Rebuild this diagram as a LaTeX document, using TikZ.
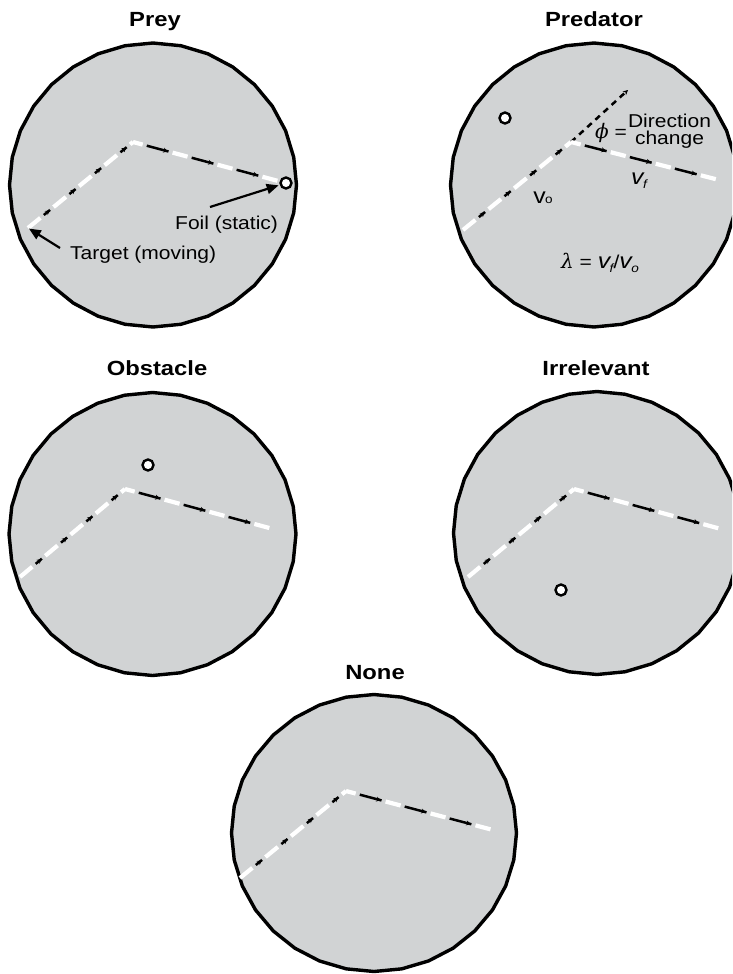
\documentclass[tikz,border=0pt]{standalone}
\usepackage{fontspec}
\setmainfont{Liberation Sans}
\newfontfamily\labelfont{Liberation Sans}[FakeStretch=1.13]
\newfontfamily\titlefont{Liberation Sans}[FakeStretch=1.16]
\newfontfamily\greekfont{DejaVu Serif}
\usetikzlibrary{arrows.meta,decorations.markings}
\definecolor{arenagray}{RGB}{209,211,212}
\newcommand{\arenapoly}[5]{% name, cx, cy, rx, ry
  \coordinate (#1) at (#2,#3);
  \draw[arena, shift={(#2,#3)}] (0:#4 and #5)
    \foreach \k in {1,...,31}{ -- ({\k*11.25}:#4 and #5) } -- cycle;
}
\newcommand{\trajectory}[3]{% start, vertex, end
  \draw[wdashA] (#1) -- (#2);
  \draw[bdashA] (#1) -- (#2);
  \draw[wdashB] (#2) -- (#3);
  \draw[bdashB] (#2) -- (#3);
}
\newcommand{\velo}[1]{{\fontsize{22}{22}\selectfont\itshape v}\kern-0.5pt\raisebox{-0.5ex}{\fontsize{12}{12}\selectfont\itshape #1}}
\tikzset{
  arena/.style={draw=black, line width=3.4pt, fill=arenagray, line join=miter},
  wdashA/.style={draw=white, line width=4.2pt, dash pattern=on 16pt off 17pt},
  bdashA/.style={draw=black, line width=2.5pt, dash pattern=on 8pt off 25pt, dash phase=12.5pt,
    postaction={decorate, decoration={markings,
      mark=between positions 28pt and 1 step 33pt with {\arrow[black]{Stealth[length=4.5pt,width=5pt]}}}}},
  wdashB/.style={draw=white, line width=4.2pt, dash pattern=on 15.5pt off 31pt, dash phase=5.5pt},
  bdashB/.style={draw=black, line width=2.5pt, dash pattern=on 22.5pt off 24pt, dash phase=32.25pt,
    postaction={decorate, decoration={markings,
      mark=between positions 36pt and 1 step 46.5pt with {\arrow[black]{Stealth[length=4.5pt,width=5pt]}}}}},
  extension/.style={draw=black, line width=2.5pt, dash pattern=on 6pt off 5pt, -{Stealth[length=5pt,width=5pt]}},
  foil/.style={circle, draw=black, line width=2.4pt, fill=white, minimum size=11pt, inner sep=0pt},
  titletext/.style={font=\titlefont\bfseries\fontsize{20.5}{24}\selectfont, anchor=base, inner sep=0pt},
  labeltext/.style={font=\labelfont\fontsize{18.6}{20}\selectfont, inner sep=0pt},
  pointer/.style={draw=black, line width=2.2pt, -{Triangle[length=12pt,width=10pt]}},
}
\begin{document}
\begin{tikzpicture}[x=1pt, y=-1pt]
\useasboundingbox (0,0) rectangle (732,974);
\fill[white] (0,0) rectangle (732,974);
\clip (0,0) rectangle (732,974);

% ---------- Prey ----------
\node[titletext] (preytitle) at (155,27) {Prey};
\arenapoly{preyc}{153}{185}{143.5}{142}
\coordinate (preyS) at (28,228);
\coordinate (preyV) at (133,142);
\coordinate (preyE) at (282,182);
\trajectory{preyS}{preyV}{preyE}
\node[foil] (preyfoil) at (286,183) {};
\node[labeltext, anchor=base west] (foillabel) at (175,229) {Foil (static)};
\node[labeltext, anchor=base west] (targetlabel) at (70,259) {Target (moving)};
\coordinate (foiltail) at (210,207);
\coordinate (targettail) at (60,248);
\draw[pointer, shorten >=1pt] (foiltail) -- (preyfoil);
\draw[pointer, shorten >=1pt] (targettail) -- (preyS);

% ---------- Predator ----------
\node[titletext] (predtitle) at (594,27) {Predator};
\arenapoly{predc}{594}{185}{143.5}{142}
\coordinate (predS) at (463,230);
\coordinate (predV) at (571,142);
\coordinate (predE) at (719,180);
\coordinate (predX) at (628,90);
\draw[extension] (predV) -- (predX);
\trajectory{predS}{predV}{predE}
\node[foil] (predfoil) at (505,118) {};
\node[labeltext, anchor=base] (phieq) at (611,138) {{\greekfont\itshape\fontsize{20}{20}\selectfont ϕ} =};
\node[labeltext, anchor=base] (dirlabel) at (669.5,127) {Direction};
\node[labeltext, anchor=base] (chglabel) at (669.5,144) {change};
\node[labeltext, anchor=base] (vflabel) at (639,184) {\velo{f}};
\node[labeltext, anchor=base] (volabel) at (543,203) {{\fontsize{22}{22}\selectfont v}\kern-0.5pt\raisebox{0ex}{\fontsize{12}{12}\selectfont o}};
\node[labeltext, anchor=base] (lambdalabel) at (600,268) {{\greekfont\itshape\fontsize{20}{20}\selectfont λ} = \velo{f}/\velo{o}};

% ---------- Obstacle ----------
\node[titletext] (obsttitle) at (157,375.5) {Obstacle};
\arenapoly{obstc}{152.5}{534}{143.5}{141.5}
\coordinate (obstS) at (20,577);
\coordinate (obstV) at (125,489);
\coordinate (obstE) at (273,529);
\trajectory{obstS}{obstV}{obstE}
\node[foil] (obstfoil) at (148,465) {};

% ---------- Irrelevant ----------
\node[titletext] (irreltitle) at (596,375.5) {Irrelevant};
\arenapoly{irrelc}{597}{533}{143.5}{141.5}
\coordinate (irrelS) at (468,577);
\coordinate (irrelV) at (574,489);
\coordinate (irrelE) at (721,529);
\trajectory{irrelS}{irrelV}{irrelE}
\node[foil] (irrelfoil) at (561,590) {};

% ---------- None ----------
\node[titletext] (nonetitle) at (375,679) {None};
\arenapoly{nonec}{374}{833}{142.5}{138.5}
\coordinate (noneS) at (240,878);
\coordinate (noneV) at (346,791);
\coordinate (noneE) at (493,830);
\trajectory{noneS}{noneV}{noneE}
\end{tikzpicture}
\end{document}
